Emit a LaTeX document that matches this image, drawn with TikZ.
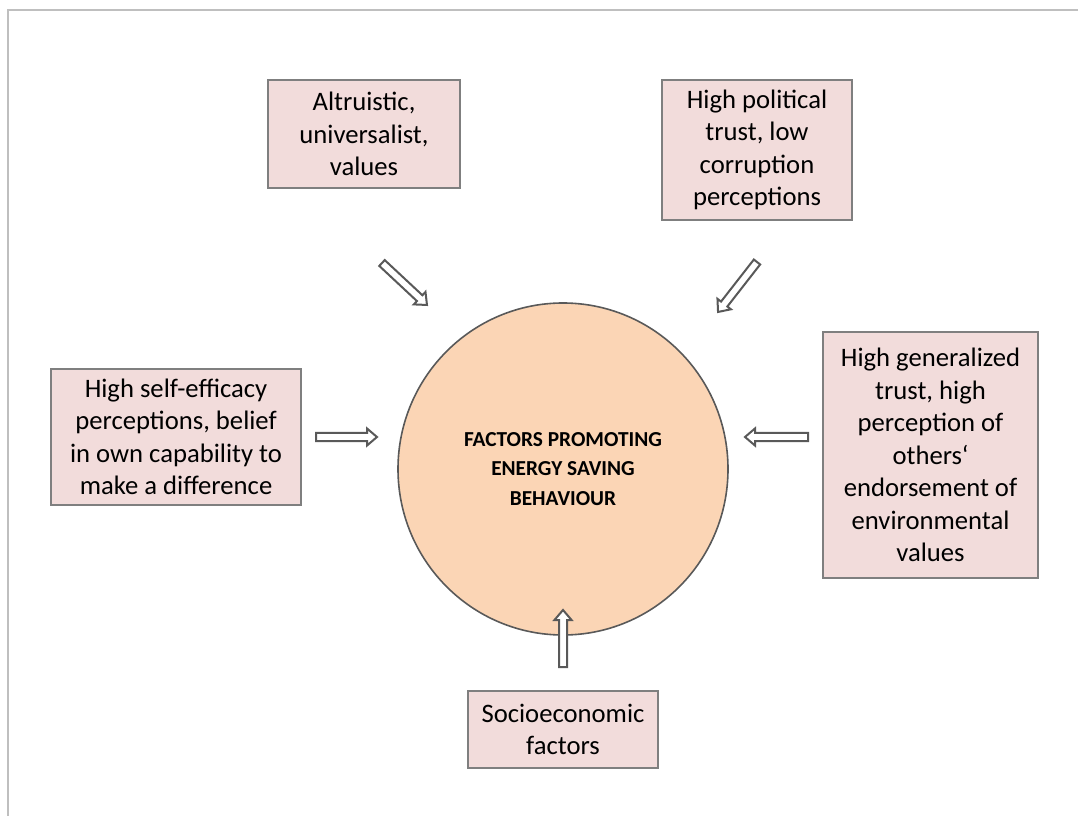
\documentclass[tikz,border=0pt]{standalone}
\usepackage{fontspec}
\setmainfont{Carlito}
\usetikzlibrary{shapes.geometric,calc}

\definecolor{boxpink}{HTML}{F2DCDB}
\definecolor{boxline}{HTML}{7F7F7F}
\definecolor{ovalfill}{HTML}{FBD5B5}
\definecolor{ovalline}{HTML}{595959}
\definecolor{framegray}{HTML}{BFBFBF}

% hollow block arrow between two named points
\newcommand{\hollowarrow}[2]{%
	\draw [blockarrow] let \p1 = (#1), \p2 = (#2),
		\n1 = {atan2(\y2-\y1, \x2-\x1)}, \n2 = {veclen(\x2-\x1, \y2-\y1)} in
		[shift={(\p1)}, rotate=\n1]
		(0pt, -3pt) -- (\n2-7.5pt, -3pt) -- (\n2-7.5pt, -6.4pt) -- (\n2, 0pt)
		-- (\n2-7.5pt, 6.4pt) -- (\n2-7.5pt, 3pt) -- (0pt, 3pt) -- cycle;
}

\begin{document}
\begin{tikzpicture}[x=0.75pt, y=-0.75pt,
	factor/.style={draw=boxline, line width=1pt, fill=boxpink, align=center,
		inner sep=0pt, font=\fontsize{20}{24.4}\selectfont},
	oval/.style={ellipse, draw=ovalline, line width=1.2pt, fill=ovalfill,
		align=center, font=\fontsize{16}{22}\selectfont\bfseries},
	blockarrow/.style={draw=ovalline, line width=1.5pt, fill=white, line join=miter}]
	\useasboundingbox (0, 0) rectangle (1078, 816);
	
	\draw [framegray, line width=1.5pt] (8, 816) -- (8, 10) -- (1078, 10);
	
	\node [oval, minimum width=247.5pt, minimum height=249pt] (centre) at (563, 469)
		{FACTORS PROMOTING\\ENERGY SAVING\\BEHAVIOUR};
	
	\node [factor, minimum width=144pt, minimum height=81pt] (altru) at (364, 134)
		{Altruistic,\\universalist,\\values};
	\node [factor, minimum width=142.5pt, minimum height=105pt] (trust) at (757, 150)
		{High political\\trust, low\\corruption\\perceptions};
	\node [factor, minimum width=187.5pt, minimum height=102pt] (effic) at (176, 437)
		{High self-efficacy\\perceptions, belief\\in own capability to\\make a difference};
	\node [factor, minimum width=161.25pt, minimum height=184.5pt] (others) at (930.5, 455)
		{High generalized\\trust, high\\perception of\\others`\\endorsement of\\environmental\\values};
	\node [factor, minimum width=142.5pt, minimum height=57.75pt] (socio) at (563, 729.5)
		{Socioeconomic\\factors};
	
	\coordinate (a1s) at (382, 263); \coordinate (a1e) at (427, 305);
	\coordinate (a2s) at (757, 262); \coordinate (a2e) at (718, 312);
	\coordinate (a3s) at (316, 437); \coordinate (a3e) at (377, 437);
	\coordinate (a4s) at (808, 437); \coordinate (a4e) at (745, 437);
	\coordinate (a5s) at (563, 667); \coordinate (a5e) at (563, 610);
	
	\foreach \i in {1, ..., 5} {
		\hollowarrow{a\i s}{a\i e}
	}
\end{tikzpicture}
\end{document}
